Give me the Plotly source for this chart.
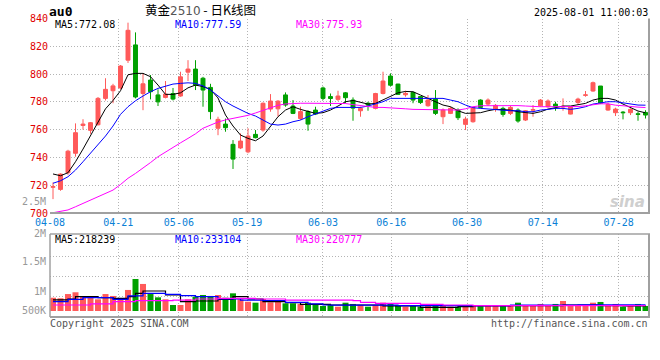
import plotly.graph_objects as go

# ---------------- data ----------------
date_ticks = ["04-08", "04-21", "05-06", "05-19", "06-03", "06-16", "06-30", "07-14", "07-28"]
date_tick_idx = [0, 9, 17, 26, 36, 45, 55, 65, 75]

opens = [718.5, 717, 729, 743, 763, 759.5, 763.5, 782.5, 788, 790,
         810, 821, 786, 795.7, 785, 783.2, 786, 784.2, 801.4, 803.6,
         797, 790.4, 761, 764, 749.4, 746.8, 744, 756.6, 759.7, 774.8,
         775, 785, 777, 768, 773, 774.1, 790, 783.8, 781.8, 786.5,
         781.3, 773.6, 779, 775.3, 786, 798.6, 792.8, 785.1, 786.8, 783.8,
         777.2, 782, 769.3, 771.7, 774.1, 763.8, 765.7, 781.3, 778.4, 774.8,
         775.3, 771.7, 774.1, 766.9, 774, 777.2, 776.5, 778.4, 776.3, 771.2,
         779.5, 784.7, 787.8, 791.4, 774.1, 772.2, 772.6, 772.2, 771.4, 772.4]
highs = [722, 728.5, 745.5, 764.5, 767.5, 765.5, 783.5, 797, 793, 806.5,
         837, 830, 800.5, 799.3, 789, 795, 790, 801.7, 810, 810,
         798, 793, 769.3, 768, 752.5, 757.3, 761, 759.7, 779.6, 785.6,
         781.3, 786.8, 781.3, 776.5, 774, 776.5, 791, 786, 788, 787,
         783.2, 776.5, 780, 786.5, 801.7, 800.5, 793, 788, 787.3, 784.2,
         784.9, 788.5, 775.3, 776.5, 775.3, 769.3, 776.5, 781.8, 782.5, 778.4,
         776.5, 777, 775.3, 774.1, 777.7, 782, 781.8, 780.1, 782.5, 777,
         783, 787.8, 794.6, 791.4, 779.5, 775.8, 773.4, 775.3, 772.9, 774]
lows = [710, 716, 727.5, 740.5, 760, 757, 763, 781, 779, 789,
        808, 782.5, 774, 781.8, 777, 782.5, 781, 783.7, 795, 788.5,
        776.5, 767.4, 756, 758.5, 731.7, 746, 743, 753.7, 758.5, 772.9,
        769.3, 776.5, 771.2, 767, 759.2, 770.5, 781.3, 777, 780.6, 779,
        766.4, 769.3, 773.6, 774.6, 785.4, 791, 785, 783.7, 779, 778.5,
        776.5, 770.5, 764, 771.2, 766.9, 759.7, 765, 775.3, 777, 772.9,
        769.3, 770.5, 765, 766.2, 769.3, 776.5, 775.8, 773.6, 773.6, 771,
        777.7, 783.7, 787.3, 778.4, 773.6, 769.8, 767.4, 770.5, 766.4, 768]
closes = [719, 728, 744.5, 757.8, 764, 765, 782.5, 789, 791.5, 805.8,
          831.5, 783.5, 793, 787.3, 780, 785.6, 782, 798, 803.6, 792,
          788.5, 773, 767.4, 761.4, 738.8, 751.8, 755.4, 754.2, 779, 780.6,
          780.5, 777.7, 771.7, 773, 764, 771.2, 782.5, 782.4, 784.2, 783,
          775.5, 775.3, 777.7, 786, 795, 792, 785.4, 786.1, 781.3, 779.5,
          781.3, 771.7, 774.1, 775.3, 768.6, 767.6, 775.8, 776, 781.3, 777.5,
          771, 776, 766.2, 773.6, 774.4, 781.3, 780.6, 776.5, 776.7, 776.5,
          782, 785, 793.8, 779, 778.2, 774.8, 772.2, 774.6, 771, 770.5]

ma5 = [728.1, 726.8, 729.0, 736.9, 746.0, 756.0, 766.0, 775.0, 781.0, 788.0,
       799.5, 800.5, 800.5, 798.1, 792.1, 785.4, 785.4, 786.5, 790.1, 792.1,
       791.0, 789.0, 782.8, 770.5, 762.6, 756.1, 753.7, 752.0, 755.4, 762.1,
       769.3, 774.1, 776.5, 774.6, 772.9, 771.7, 772.2, 774.1, 777.0, 780.1,
       781.0, 779.5, 778.4, 778.9, 781.3, 784.2, 786.5, 787.5, 787.3, 784.9,
       782.5, 780.1, 777.7, 776.5, 773.6, 771.7, 771.7, 772.2, 773.6, 774.6,
       774.4, 774.1, 772.9, 772.2, 771.7, 772.9, 774.8, 775.8, 777.0, 777.0,
       777.7, 778.9, 781.3, 782.5, 782.5, 781.3, 778.4, 776.0, 773.4, 772.1]
ma10 = [721.4, 723.2, 726.1, 730.9, 736.9, 742.9, 748.9, 755.4, 762.6, 771.0,
        776.5, 780.8, 784.2, 787.3, 789.7, 791.4, 792.8, 793.3, 793.7, 793.3,
        791.5, 788.5, 784.0, 780.1, 777.0, 774.1, 771.7, 769.8, 766.9, 764.0,
        763.3, 764.0, 765.7, 766.9, 769.3, 771.2, 773.4, 775.3, 776.0, 776.0,
        776.0, 776.0, 777.0, 778.4, 780.1, 782.5, 782.5, 782.5, 782.5, 783.0,
        783.0, 782.5, 782.5, 781.3, 780.1, 777.7, 775.8, 775.3, 774.8, 774.6,
        774.1, 773.6, 773.6, 772.9, 772.9, 774.1, 774.6, 775.3, 775.3, 774.6,
        775.3, 776.5, 778.4, 779.4, 780.1, 780.1, 779.4, 778.4, 777.7, 777.6]
ma30 = [700.2, 701.0, 702.2, 704.5, 707.0, 709.4, 711.8, 714.0, 716.5, 720.5,
        725.0, 728.5, 732.2, 736.3, 740.5, 744.0, 747.3, 750.5, 753.7, 757.0,
        761.0, 763.5, 765.5, 767.0, 768.2, 769.0, 770.3, 772.0, 774.0, 776.0,
        777.5, 778.5, 779.0, 779.0, 779.0, 779.0, 779.0, 779.0, 779.0, 778.8,
        778.0, 777.2, 776.5, 776.0, 776.0, 775.5, 775.0, 775.0, 774.6, 774.6,
        774.1, 774.1, 774.1, 774.1, 774.1, 775.0, 776.5, 777.2, 777.2, 777.4,
        777.7, 777.7, 777.3, 777.0, 776.6, 776.5, 776.5, 776.5, 776.5, 776.5,
        776.6, 777.2, 777.8, 778.6, 778.6, 777.6, 777.2, 776.5, 776.2, 775.9]

volume_k = [318, 311, 364, 386, 331, 318, 298, 364, 340, 311,
            415, 552, 490, 364, 323, 298, 227, 227, 298, 331,
            352, 340, 352, 318, 373, 298, 268, 256, 302, 261,
            268, 248, 248, 240, 256, 227, 215, 227, 206, 256,
            240, 227, 206, 227, 256, 248, 227, 206, 227, 206,
            215, 240, 227, 206, 206, 215, 215, 227, 227, 227,
            227, 227, 256, 227, 227, 240, 227, 240, 277, 218,
            215, 215, 256, 265, 215, 240, 206, 215, 240, 215]
vol_ma5_k = [290, 290, 302, 331, 331, 331, 318, 318, 311, 311,
             331, 373, 402, 402, 402, 352, 352, 268, 268, 277,
             277, 277, 298, 298, 331, 331, 302, 302, 268, 268,
             268, 256, 256, 235, 235, 235, 235, 227, 227, 227,
             227, 227, 227, 227, 215, 215, 215, 215, 215, 198,
             198, 198, 198, 198, 206, 206, 215, 215, 215, 215,
             215, 218, 218, 218, 218, 218, 218, 218, 227, 227,
             227, 227, 227, 218, 218, 218, 215, 215, 215, 218]
vol_ma10_k = [268, 268, 298, 298, 318, 318, 318, 318, 298, 298,
              340, 340, 373, 373, 373, 361, 361, 343, 343, 331,
              331, 331, 302, 302, 302, 289, 289, 289, 283, 283,
              283, 261, 261, 261, 240, 240, 227, 225, 225, 225,
              225, 225, 225, 225, 225, 225, 220, 220, 220, 220,
              220, 220, 220, 220, 220, 220, 220, 220, 220, 220,
              220, 225, 225, 225, 225, 225, 225, 225, 225, 225,
              228, 228, 228, 228, 228, 228, 228, 228, 228, 228]
vol_ma30_k = [227, 227, 227, 227, 227, 240, 240, 240, 268, 268,
              268, 281, 281, 281, 281, 281, 289, 289, 289, 302,
              302, 302, 311, 311, 311, 311, 311, 302, 302, 302,
              302, 289, 289, 289, 289, 289, 289, 289, 289, 289,
              281, 261, 261, 248, 248, 248, 248, 248, 248, 235,
              235, 235, 227, 227, 227, 227, 218, 218, 218, 218,
              218, 218, 218, 218, 218, 218, 218, 218, 218, 218,
              218, 218, 218, 218, 218, 218, 218, 220, 220, 220]

price_ticks = [700, 720, 740, 760, 780, 800, 820, 840]
vol_axis_labels = ["2.5M", "2M", "1.5M", "1M", "500K"]

ma_labels_main = ["MA5:772.08", "MA10:777.59", "MA30:775.93"]
ma_labels_vol = ["MA5:218239", "MA10:233104", "MA30:220777"]

# ---------------- styling / layout constants ----------------
W, H = 660, 360
MONO = "DejaVu Sans Mono"
CJK = "Noto Sans CJK SC"
UP, DOWN = "#ff5a5a", "#00a000"
MA_COLORS = ["#000000", "#0000ff", "#ff00ff"]
GRID = "#b4b4b4"
BORDER = "#a0a0a0"

PX_L, PX_R = 50, 649           # plot area left/right in px
MAIN_T, MAIN_B = 18.5, 213     # main panel top/bottom px
VOL_T, VOL_B = 234, 317        # volume panel top/bottom px
STEP = 7.5                      # px per candle
FIRST = 53                      # px of first candle centre
VOL_PX = 12500                  # volume units per px
VOL_BASE_PX = 6                 # bars start this many px above panel bottom


def px_x(px):
    return px / W


def px_y(px):
    return 1 - px / H


n = len(closes)
idx = list(range(n))
x_lo = (PX_L - FIRST) / STEP
x_hi = (PX_R - FIRST) / STEP
grid_step = (PX_R - PX_L) / 79 / STEP
tick_pos = [i * grid_step + x_lo for i in date_tick_idx]

volume = [v * 1000 for v in volume_k]
vol_ma5 = [v * 1000 for v in vol_ma5_k]
vol_ma10 = [v * 1000 for v in vol_ma10_k]
vol_ma30 = [v * 1000 for v in vol_ma30_k]
vol_lo = 152000 - VOL_BASE_PX * VOL_PX
vol_base = vol_lo + VOL_BASE_PX * VOL_PX
vol_hi = vol_lo + (VOL_B - VOL_T) * VOL_PX
vol_grid = [vol_lo + k * 20 * VOL_PX + VOL_PX for k in (1, 2, 3)]

bar_colors = [UP if c >= o else DOWN for o, c in zip(opens, closes)]

fig = go.Figure()
fig.add_trace(go.Candlestick(
    x=idx, open=opens, high=highs, low=lows, close=closes,
    increasing=dict(line=dict(color=UP, width=1), fillcolor=UP),
    decreasing=dict(line=dict(color=DOWN, width=1), fillcolor=DOWN),
    whiskerwidth=0, xaxis="x", yaxis="y", hoverinfo="skip"))
for series, col in zip([ma5, ma10, ma30], MA_COLORS):
    fig.add_trace(go.Scatter(x=idx, y=series, mode="lines",
                             line=dict(color=col, width=1),
                             xaxis="x", yaxis="y", hoverinfo="skip"))

fig.add_trace(go.Bar(x=idx, y=[v - vol_base for v in volume], base=vol_base,
                     marker=dict(color=bar_colors, line=dict(width=0)),
                     width=0.8, xaxis="x2", yaxis="y2", hoverinfo="skip"))
for series, col in zip([vol_ma5, vol_ma10, vol_ma30], MA_COLORS):
    fig.add_trace(go.Scatter(x=idx, y=series, mode="lines",
                             line=dict(color=col, width=1.2, shape="hv"),
                             xaxis="x2", yaxis="y2", hoverinfo="skip"))

dash = "1px,2px"
xdom = [px_x(PX_L), px_x(PX_R)]
fig.update_layout(
    width=W, height=H, margin=dict(l=0, r=0, t=0, b=0, autoexpand=False),
    paper_bgcolor="white", plot_bgcolor="white",
    showlegend=False, hovermode=False, boxgap=0.25,
    xaxis=dict(domain=xdom, range=[x_lo, x_hi], anchor="y", automargin=False,
               tickmode="array", tickvals=tick_pos, ticktext=date_ticks,
               tickfont=dict(family=MONO, size=10, color="#0a7fd6"),
               showgrid=True, gridcolor=GRID, griddash=dash, gridwidth=1,
               zeroline=False, ticks="", rangeslider=dict(visible=False),
               showline=False, ticklabelstandoff=2),
    yaxis=dict(domain=[px_y(MAIN_B), px_y(MAIN_T)], range=[700, 840], anchor="x",
               automargin=False,
               tickmode="array", tickvals=price_ticks,
               tickfont=dict(family=MONO, size=10, color="#e00000"),
               showgrid=True, gridcolor=GRID, griddash=dash, gridwidth=1,
               zeroline=False, ticks="", showline=False, ticklabelstandoff=1),
    xaxis2=dict(domain=xdom, range=[x_lo, x_hi], anchor="y2", matches="x",
                automargin=False,
                tickmode="array", tickvals=tick_pos, showticklabels=False,
                showgrid=True, gridcolor=GRID, griddash=dash, gridwidth=1,
                zeroline=False, ticks=""),
    yaxis2=dict(domain=[px_y(VOL_B), px_y(VOL_T)], range=[vol_lo, vol_hi], anchor="x2",
                automargin=False,
                tickmode="array", tickvals=vol_grid, showticklabels=False,
                showgrid=True, gridcolor=GRID, griddash=dash, gridwidth=1,
                zeroline=False, ticks=""),
)

shapes = []


def hline(y, x0, x1, color=BORDER, width=1, d="solid"):
    shapes.append(dict(type="line", xref="paper", yref="paper",
                       x0=px_x(x0), x1=px_x(x1), y0=px_y(y), y1=px_y(y),
                       line=dict(color=color, width=width, dash=d)))


def vline(x, y0, y1, color=BORDER, width=1, d="solid"):
    shapes.append(dict(type="line", xref="paper", yref="paper",
                       x0=px_x(x), x1=px_x(x), y0=px_y(y0), y1=px_y(y1),
                       line=dict(color=color, width=width, dash=d)))


# main panel borders
hline(MAIN_B, PX_L, PX_R + 1, width=2)
vline(PX_R, MAIN_T, MAIN_B, width=2)
# volume panel borders
hline(VOL_T, PX_L, PX_R + 1, width=1.5)
hline(VOL_B, PX_L, PX_R + 1, width=2)
vline(PX_L, VOL_T, VOL_B, width=1.5)
vline(PX_R, VOL_T, VOL_B, width=2)
fig.update_layout(shapes=shapes)

ann = []


def text(x, y, s, color="#000", size=10, family=MONO, anchor="left", **kw):
    ann.append(dict(x=px_x(x), y=px_y(y), xref="paper", yref="paper", text=s,
                    showarrow=False, xanchor=anchor, yanchor="middle",
                    font=dict(family=family, size=size, color=color),
                    borderpad=0, **kw))


text(48, 11, "<b>au0</b>", size=13)
text(200, 9.5, '黄金<span style="font-family:DejaVu Sans;font-size:12px;color:#555">2510</span> - 日K线图',
     size=12.5, family=CJK, anchor="center")
text(649, 12.5, "2025-08-01 11:00:03", anchor="right")
for lbl, xpos, col in zip(ma_labels_main, [54, 174, 295], MA_COLORS):
    text(xpos, 24.5, lbl, color=col)
for lbl, xpos, col in zip(ma_labels_vol, [54, 174, 295], MA_COLORS):
    text(xpos, 239.5, lbl, color=col)
for lbl, ypos in zip(vol_axis_labels, [201, 233, 261, 291, 310]):
    text(47, ypos, lbl, color="#999999", anchor="right")
text(49, 323.5, "Copyright 2025 SINA.COM", color="#555555")
text(649, 323.5, "http://finance.sina.com.cn", color="#555555", anchor="right")
text(627, 202, "<b><i>sina</i></b>", color="#cfcfcf", size=15, family="DejaVu Sans", anchor="center")
fig.update_layout(annotations=ann)

fig.write_html("out.html", config={"displayModeBar": False},
               post_script="document.body.style.margin='0';")
